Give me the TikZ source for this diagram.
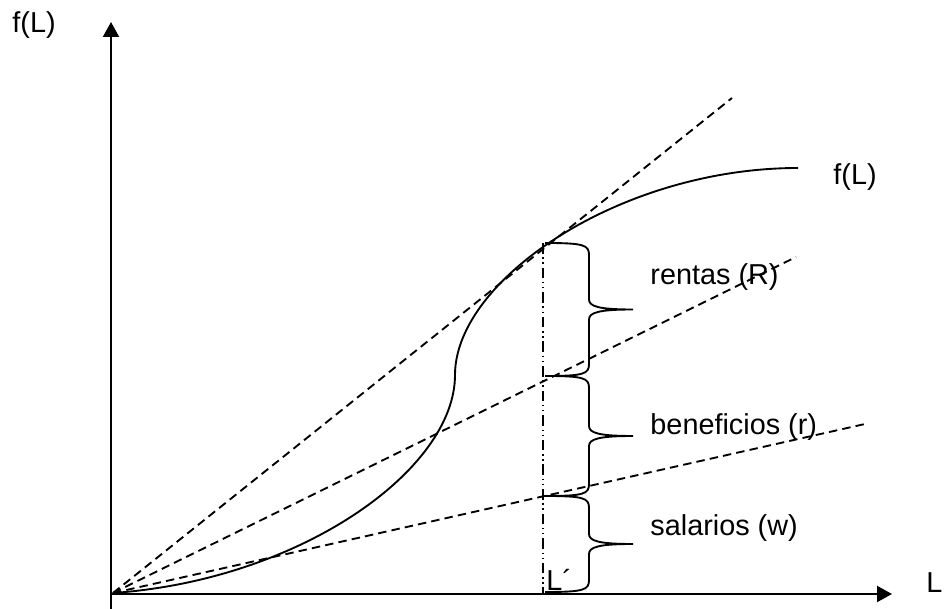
\documentclass[tikz,border=0pt]{standalone}
\usepackage{fontspec}
\setmainfont{Liberation Sans}
\usepackage{tikz}
\usetikzlibrary{arrows.meta}
\usetikzlibrary{positioning}

% llave: #1 = y arriba, #2 = y abajo
\newcommand{\llave}[2]{%
	\draw[llave linea] (545,#1) .. controls (584,#1) and (589,#1+2) .. (589,#1+12)
		-- (589,{(#1+#2)/2-10}) .. controls (589,{(#1+#2)/2-3}) and (599,{(#1+#2)/2}) .. (633,{(#1+#2)/2})
		.. controls (599,{(#1+#2)/2}) and (589,{(#1+#2)/2+3}) .. (589,{(#1+#2)/2+10})
		-- (589,#2-12) .. controls (589,#2-2) and (584,#2) .. (545,#2);}

\begin{document}
\begin{tikzpicture}[x=0.015cm,y=-0.015cm,
		every node/.style={font=\fontsize{12.3}{14}\selectfont,inner sep=0pt},
		eje/.style={line width=1pt,-{Triangle[width=6.8pt,length=6.4pt]}},
		recta/.style={line width=0.8pt,dash pattern=on 3.6pt off 2.2pt},
		llave linea/.style={line width=0.8pt},
		punteada/.style={line width=0.5pt,dash pattern=on 4.5pt off 1.6pt on 0.6pt off 1.6pt on 0.6pt off 1.6pt}]
		\useasboundingbox (0,0) rectangle (944,609);
		% ejes
		\draw[eje] (111,609) -- (111,22) coordinate(eje y);
		\draw[eje] (111,594) -- (892,594) coordinate(eje x);
		\coordinate (O) at (113,593);
		\node[anchor=west] (fL eje) at (12,25) {f(L)};
		\node[anchor=west] (L eje) at (926,583) {L};
		% rectas desde el origen
		\draw[recta] (O) -- (732,98);
		\draw[recta] (O) -- (796,257);
		\draw[recta] (O) -- (865,424);
		% funcion de produccion
		\draw[line width=0.8pt] (O) .. controls (300,580) and (455,470) .. (455,375)
			.. controls (455,280) and (620,168) .. (798,168) coordinate(fin curva);
		\node[anchor=west] (fL) at (833,177) {f(L)};
		% L prima
		\draw[punteada] (543,243) -- (543,594);
		\node[anchor=west] (Lp) at (546,580) {L´};
		% llaves
		\llave{243}{376}
		\llave{376}{496}
		\llave{496}{592}
		\node[anchor=west] (rentas) at (650,277) {rentas (R)};
		\node[anchor=west] (beneficios) at (650,427) {beneficios (r)};
		\node[anchor=west] (salarios) at (650,528) {salarios (w)};
\end{tikzpicture}
\end{document}
